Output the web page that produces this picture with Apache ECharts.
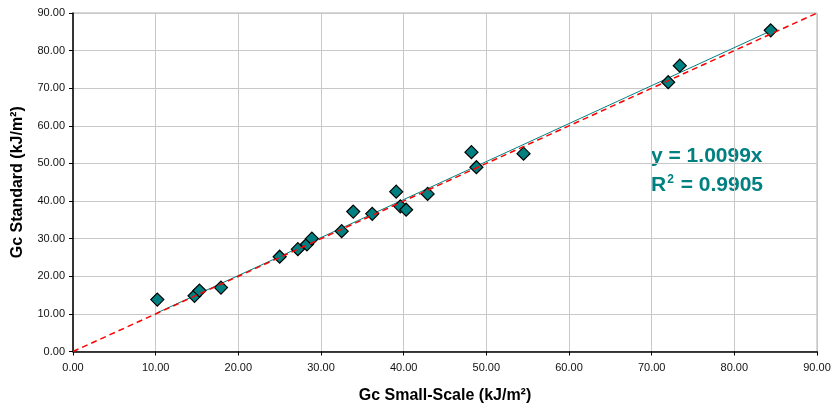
<!DOCTYPE html>
<html>
<head>
<meta charset="utf-8">
<script src="https://cdn.jsdelivr.net/npm/echarts@6/dist/echarts.min.js"></script>
<style>html,body{margin:0;padding:0;background:#fff}#c{width:834px;height:409px}</style>
</head>
<body>
<div id="c"></div>
<script>
var smallScale = [10.2,14.7,15.3,17.9,25.0,27.2,28.3,28.9,32.5,33.9,36.2,39.1,39.6,40.3,42.9,48.2,48.8,54.5,72.0,73.4,84.4];
var standard   = [13.8,14.8,16.2,17.0,25.2,27.2,28.5,30.0,32.0,37.2,36.6,42.5,38.6,37.7,41.9,53.0,49.0,52.6,71.6,76.0,85.4];
var slope = 1.0099;
var r2 = 0.9905;
var identityLine = [[0,0],[90,90]];

var points = smallScale.map(function(x,i){return [x, standard[i]];});
var xMin = Math.min.apply(null, smallScale), xMax = Math.max.apply(null, smallScale);
var trend = [[xMin, slope*xMin],[xMax, slope*xMax]];

var chart = echarts.init(document.getElementById('c'));
var fam = '"Liberation Sans", Arial, sans-serif';
chart.setOption({
  animation:false,
  grid:{left:73,right:17,top:13,bottom:57.5,show:true,borderColor:'#b0b0b0',borderWidth:1},
  xAxis:{type:'value',min:0,max:90,interval:10,
    name:'Gc Small-Scale (kJ/m²)',nameLocation:'middle',nameGap:36,
    nameTextStyle:{fontFamily:fam,fontSize:16,fontWeight:'bold',color:'#000'},
    axisLine:{show:true,lineStyle:{color:'#000',width:1.5}},
    axisTick:{show:true,length:4,lineStyle:{color:'#000'}},
    axisLabel:{fontFamily:fam,fontSize:11,color:'#111',margin:11,formatter:function(v){return v.toFixed(2);}},
    splitLine:{show:true,lineStyle:{color:'#c8c8c8',width:1}}
  },
  yAxis:{type:'value',min:0,max:90,interval:10,
    name:'Gc Standard (kJ/m²)',nameLocation:'middle',nameGap:47,
    nameTextStyle:{fontFamily:fam,fontSize:16,fontWeight:'bold',color:'#000'},
    axisLine:{show:true,lineStyle:{color:'#000',width:1.5}},
    axisTick:{show:true,length:4,lineStyle:{color:'#000'}},
    axisLabel:{fontFamily:fam,fontSize:11,color:'#111',margin:8,formatter:function(v){return v.toFixed(2);}},
    splitLine:{show:true,lineStyle:{color:'#c8c8c8',width:1}}
  },
  series:[
    {type:'line',data:trend,symbol:'none',lineStyle:{color:'#008080',width:1},z:2},
    {type:'scatter',data:points,symbol:'diamond',symbolSize:[13,13],
      itemStyle:{color:'#008080',borderColor:'#000',borderWidth:1.2,opacity:1},z:3},
    {type:'line',data:identityLine,symbol:'none',lineStyle:{color:'#ff0000',width:1.5,type:[6,4]},z:4}
  ],
  graphic:[
    {type:'text',left:651,top:146,style:{text:'y = '+slope.toFixed(4)+'x',fontFamily:fam,fontSize:21,fontWeight:'bold',fill:'#008080'}},
    {type:'text',left:651,top:174,style:{text:'R{sup|2} = '+r2.toFixed(4),fontFamily:fam,fontSize:21,fontWeight:'bold',fill:'#008080',
      rich:{base:{},sup:{fontFamily:fam,fontSize:12,fontWeight:'bold',fill:'#008080',verticalAlign:'top',padding:[0,1,10,1]}}}}
  ]
});
</script>
</body>
</html>
